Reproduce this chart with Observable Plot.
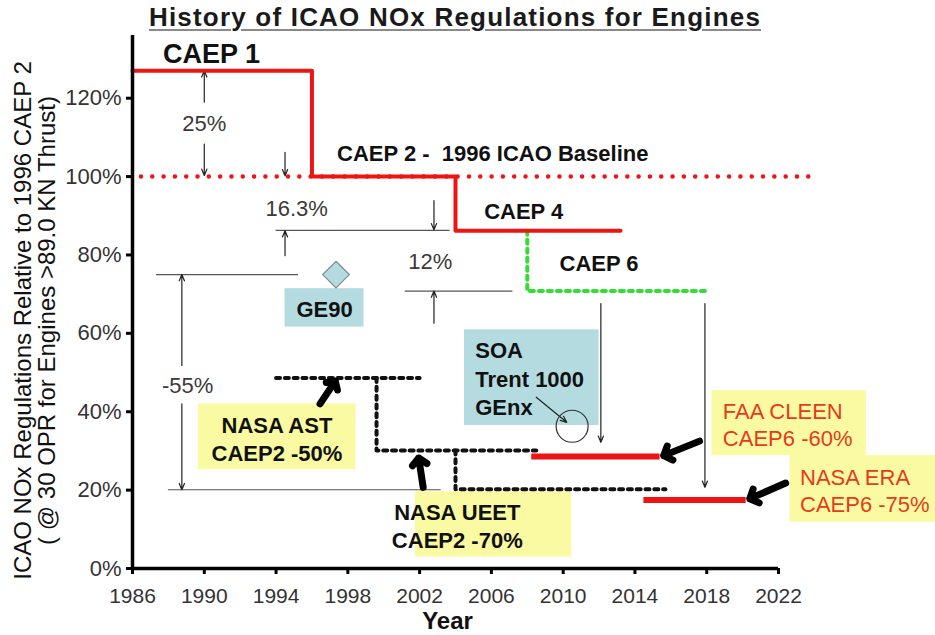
<!DOCTYPE html>
<html>
<head>
<meta charset="utf-8">
<script src="https://cdn.jsdelivr.net/npm/d3@7"></script>
<script src="https://cdn.jsdelivr.net/npm/@observablehq/plot@0.6"></script>
<style>
  body { margin: 0; background: #fff; }
  #wrap { position: relative; width: 935px; height: 635px; overflow: hidden; }
  #title {
    position: absolute; left: 0; top: 2px; width: 910px; text-align: center;
    font: bold 26px "Liberation Sans", Arial, sans-serif; letter-spacing: 1.2px;
    color: #1a1a1a; text-decoration: underline; text-decoration-color: #8a8a8a;
    text-decoration-thickness: 2px; text-underline-offset: 3px; line-height: 30px;
  }
  [aria-label="x-axis tick"], [aria-label="y-axis tick"],
  [aria-label="x-axis tick"] *, [aria-label="y-axis tick"] *,
  [aria-label="x-axis"] .tick line, [aria-label="y-axis"] .tick line { stroke-width: 3px; stroke: #000; }
  [aria-label="x-axis tick label"], [aria-label="y-axis tick label"],
  [aria-label="x-axis"] text, [aria-label="y-axis"] text { fill: #333; }
  [aria-label="y-axis tick label"], [aria-label="y-axis"] text { font-size: 22px; }
</style>
</head>
<body>
<div id="wrap"><div id="title">History of ICAO NOx Regulations for Engines</div></div>
<script>
// ---------- axes ----------
const yearTicks = [1986, 1990, 1994, 1998, 2002, 2006, 2010, 2014, 2018, 2022];
const percentTicks = [0, 20, 40, 60, 80, 100, 120];
const yearDomain = [1986, 2022];
const percentDomain = [0, 136];

// ---------- ICAO regulation step line (CAEP 1 -> CAEP 2 -> CAEP 4) ----------
const stepYears = [1986, 1996, 2004, 2013.2];
const stepLevels = [127, 100, 86.2, 86.2];

// ---------- CAEP 2 baseline (red dotted) ----------
const baselineLevel = [100];
const baselineFrom = [1986.5];
const baselineTo = [2023.9];

// ---------- CAEP 6 (green dotted) ----------
const caep6Years = [2008, 2008, 2017.9];
const caep6Levels = [86.2, 70.8, 70.8];

// ---------- NASA goal paths (black dotted) ----------
const nasaPathId = ["AST", "AST", "STEP", "STEP", "STEP", "UEET", "UEET", "UEET"];
const nasaPathYears = [1994, 2002, 1999.6, 1999.6, 2008.5, 2004, 2004, 2015.7];
const nasaPathLevels = [48.6, 48.6, 48.6, 30.1, 30.1, 30.1, 20.2, 20.2];

// ---------- research targets (red bars) ----------
const targetNames = ["FAA CLEEN", "NASA ERA"];
const targetFrom = [2008.25, 2014.5];
const targetTo = [2015.4, 2020.2];
const targetLevels = [28.6, 17.5];

// ---------- dimension lines (thin) ----------
const dimLevels = [86.3, 70.8, 75, 20.1];
const dimFrom = [1994.0, 2001.2, 1987.35, 1988.0];
const dimTo = [2003.7, 2007.2, 1995.25, 2003.2];

// ---------- thin arrows ----------
const thinFromYear = [1990, 1990, 1994.5, 1994.5, 2002.8, 2002.8, 1988.75, 1988.75, 2012.1, 2017.9, 2008.5];
const thinFromLevel = [119, 108.3, 106.2, 79.8, 93.9, 62.6, 51.8, 42, 67.6, 67.6, 43.7];
const thinToYear = [1990, 1990, 1994.5, 1994.5, 2002.8, 2002.8, 1988.75, 1988.75, 2012.1, 2017.9, 2010.2];
const thinToLevel = [127, 100.3, 100.2, 86.2, 86.4, 70.8, 75, 20.1, 32.2, 20.7, 37.3];

// ---------- thick pointer arrows ----------
const thickFromYear = [1996.45, 2002.2, 2017.6, 2022.4];
const thickFromLevel = [42, 20.7, 32.5, 21.8];
const thickToYear = [1997.3, 2001.95, 2015.6, 2020.4];
const thickToLevel = [47.8, 28.2, 28.8, 17.8];

// ---------- boxes ----------
const boxNames = ["GE90", "SOA", "NASA AST", "NASA UEET", "FAA CLEEN", "NASA ERA"];
const boxKind = ["engine", "engine", "goal", "goal", "goal", "goal"];
const boxFromYear = [1994.5, 2004.5, 1989.67, 2001.76, 2018.3, 2022.65];
const boxToYear = [1998.9, 2012.0, 1998.46, 2010.47, 2026.9, 2030.8];
const boxLow = [61.6, 36.5, 25.2, 2.9, 28.8, 11.8];
const boxHigh = [71.4, 60.9, 42.0, 19.6, 45.4, 28.8];

// ---------- box texts ----------
const centeredBoxTexts = ["GE90", "NASA AST\nCAEP2 -50%", "NASA UEET\nCAEP2 -70%"];
const centeredBoxYear = [1996.7, 1994.05, 2004.1];
const centeredBoxLevel = [66.4, 33.3, 11.2];
const soaText = ["SOA\nTrent 1000\nGEnx"];
const soaYear = [2005.1];
const soaLevel = [48.7];
const redTexts = ["FAA CLEEN\nCAEP6 -60%", "NASA ERA\nCAEP6 -75%"];
const redTextYear = [2018.9, 2023.2];
const redTextLevel = [37.0, 20.1];

// ---------- engine markers ----------
const ge90Year = [1997.34];
const ge90Level = [75];
const newEngineYear = [2010.5];
const newEngineLevel = [36.3];

// ---------- labels ----------
const caep1Label = ["CAEP 1"];
const caep1Year = [1990.4];
const caep1Level = [131.3];
const baselineLabel = ["CAEP 2 -  1996 ICAO Baseline"];
const baselineLabelYear = [1997.4];
const baselineLabelLevel = [105.8];
const regLabels = ["CAEP 4", "CAEP 6"];
const regLabelYear = [2007.8, 2012.0];
const regLabelLevel = [90.9, 77.8];
const pctLabels = ["25%", "16.3%", "12%", "-55%"];
const pctLabelYear = [1990, 1995.15, 2002.6, 1989.07];
const pctLabelLevel = [113.5, 91.8, 78.3, 46.7];

const yTitle = "ICAO NOx Regulations Relative to 1996 CAEP 2\n( @ 30 OPR for Engines >89.0 KN Thrust)";
const xTitle = "Year";

const F = "'Liberation Sans', Arial, Helvetica, sans-serif";
const RED = "#ee1414";
const idx = (a) => a.map((_, i) => i);

const chart = Plot.plot({
  width: 935,
  height: 635,
  marginLeft: 132,
  marginRight: 157,
  marginTop: 35,
  marginBottom: 67,
  style: { fontFamily: F, fontSize: "21px", background: "white", overflow: "visible" },
  x: { domain: yearDomain, ticks: yearTicks, tickFormat: "d", tickSize: 6, tickPadding: 14, label: null },
  y: { domain: percentDomain, ticks: percentTicks, tickFormat: (d) => d + "%", tickSize: 6, tickPadding: 5, label: null },
  marks: [
    // boxes
    Plot.rect(idx(boxNames), {
      x1: (i) => boxFromYear[i], x2: (i) => boxToYear[i],
      y1: (i) => boxLow[i], y2: (i) => boxHigh[i],
      fill: (i) => boxKind[i] === "engine" ? "#b4dbe0" : "#fafaa2"
    }),
    // dimension lines
    Plot.ruleY(idx(dimLevels), {
      y: (i) => dimLevels[i], x1: (i) => dimFrom[i], x2: (i) => dimTo[i],
      stroke: "#555", strokeWidth: 1.2
    }),
    // thin arrows
    Plot.arrow(idx(thinFromYear), {
      x1: (i) => thinFromYear[i], y1: (i) => thinFromLevel[i],
      x2: (i) => thinToYear[i], y2: (i) => thinToLevel[i],
      stroke: "#222", strokeWidth: 1.2, headLength: 8.5, headAngle: 45
    }),
    // CAEP 2 baseline
    Plot.ruleY(idx(baselineLevel), {
      y: (i) => baselineLevel[i], x1: (i) => baselineFrom[i], x2: (i) => baselineTo[i],
      stroke: RED, strokeWidth: 4.5, strokeDasharray: "0.01 11.3", strokeLinecap: "round"
    }),
    // CAEP 6 green
    Plot.line(idx(caep6Years), {
      x: (i) => caep6Years[i], y: (i) => caep6Levels[i],
      stroke: "#33dd33", strokeWidth: 4, strokeDasharray: "4 5"
    }),
    // NASA goal paths
    Plot.line(idx(nasaPathYears), {
      x: (i) => nasaPathYears[i], y: (i) => nasaPathLevels[i], z: (i) => nasaPathId[i],
      stroke: "#111", strokeWidth: 4, strokeDasharray: "4 4.8"
    }),
    // regulation step line
    Plot.line(idx(stepYears), {
      x: (i) => stepYears[i], y: (i) => stepLevels[i], curve: "step-after",
      stroke: RED, strokeWidth: 4
    }),
    // targets
    Plot.ruleY(idx(targetNames), {
      y: (i) => targetLevels[i], x1: (i) => targetFrom[i], x2: (i) => targetTo[i],
      stroke: RED, strokeWidth: 6
    }),
    // thick arrows
    Plot.arrow(idx(thickFromYear), {
      x1: (i) => thickFromYear[i], y1: (i) => thickFromLevel[i],
      x2: (i) => thickToYear[i], y2: (i) => thickToLevel[i],
      stroke: "#000", strokeWidth: 7, headLength: 2.2, headAngle: 95
    }),
    // GE90 diamond
    Plot.dot(idx(ge90Year), {
      x: (i) => ge90Year[i], y: (i) => ge90Level[i], symbol: "diamond2", r: 12,
      fill: "#b4dbe0", stroke: "#7d8c8e", strokeWidth: 1.2
    }),
    // new engine circle
    Plot.dot(idx(newEngineYear), {
      x: (i) => newEngineYear[i], y: (i) => newEngineLevel[i], r: 16,
      fill: "none", stroke: "#333", strokeWidth: 1.2
    }),
    // axis lines
    Plot.ruleX([yearDomain[0]], { y1: percentDomain[0], y2: percentDomain[1], stroke: "#000", strokeWidth: 3.5 }),
    Plot.ruleY([percentDomain[0]], { x1: yearDomain[0], x2: yearDomain[1], stroke: "#000", strokeWidth: 3.5 }),
    // box texts
    Plot.text(idx(centeredBoxTexts), {
      x: (i) => centeredBoxYear[i], y: (i) => centeredBoxLevel[i], text: (i) => centeredBoxTexts[i],
      textAnchor: "middle", fontSize: 22, fontWeight: "bold", fill: "#111", lineHeight: 1.28
    }),
    Plot.text(idx(soaText), {
      x: (i) => soaYear[i], y: (i) => soaLevel[i], text: (i) => soaText[i],
      textAnchor: "start", fontSize: 22, fontWeight: "bold", fill: "#111", lineHeight: 1.28
    }),
    Plot.text(idx(redTexts), {
      x: (i) => redTextYear[i], y: (i) => redTextLevel[i], text: (i) => redTexts[i],
      textAnchor: "start", fontSize: 22, fill: "#e63a1e", lineHeight: 1.26
    }),
    // labels
    Plot.text(idx(caep1Label), {
      x: (i) => caep1Year[i], y: (i) => caep1Level[i], text: (i) => caep1Label[i],
      textAnchor: "middle", fontSize: 27, fontWeight: "bold", fill: "#111"
    }),
    Plot.text(idx(baselineLabel), {
      x: (i) => baselineLabelYear[i], y: (i) => baselineLabelLevel[i], text: (i) => baselineLabel[i],
      textAnchor: "start", fontSize: 22, fontWeight: "bold", fill: "#111"
    }),
    Plot.text(idx(regLabels), {
      x: (i) => regLabelYear[i], y: (i) => regLabelLevel[i], text: (i) => regLabels[i],
      textAnchor: "middle", fontSize: 22, fontWeight: "bold", fill: "#111"
    }),
    Plot.text(idx(pctLabels), {
      x: (i) => pctLabelYear[i], y: (i) => pctLabelLevel[i], text: (i) => pctLabels[i],
      textAnchor: "middle", fontSize: 22, fill: "#3a3a3a"
    }),
    // axis titles
    Plot.text([yTitle], {
      frameAnchor: "left", rotate: -90, dx: -97, dy: 18.5,
      textAnchor: "middle", lineAnchor: "middle",
      fontSize: 24, lineHeight: 0.97, fill: "#111"
    }),
    Plot.text([xTitle], {
      frameAnchor: "bottom", dx: -8, dy: 53, textAnchor: "middle", lineAnchor: "middle",
      fontSize: 24, fontWeight: "bold", fill: "#111"
    })
  ]
});
document.getElementById("wrap").appendChild(chart);
</script>
</body>
</html>
